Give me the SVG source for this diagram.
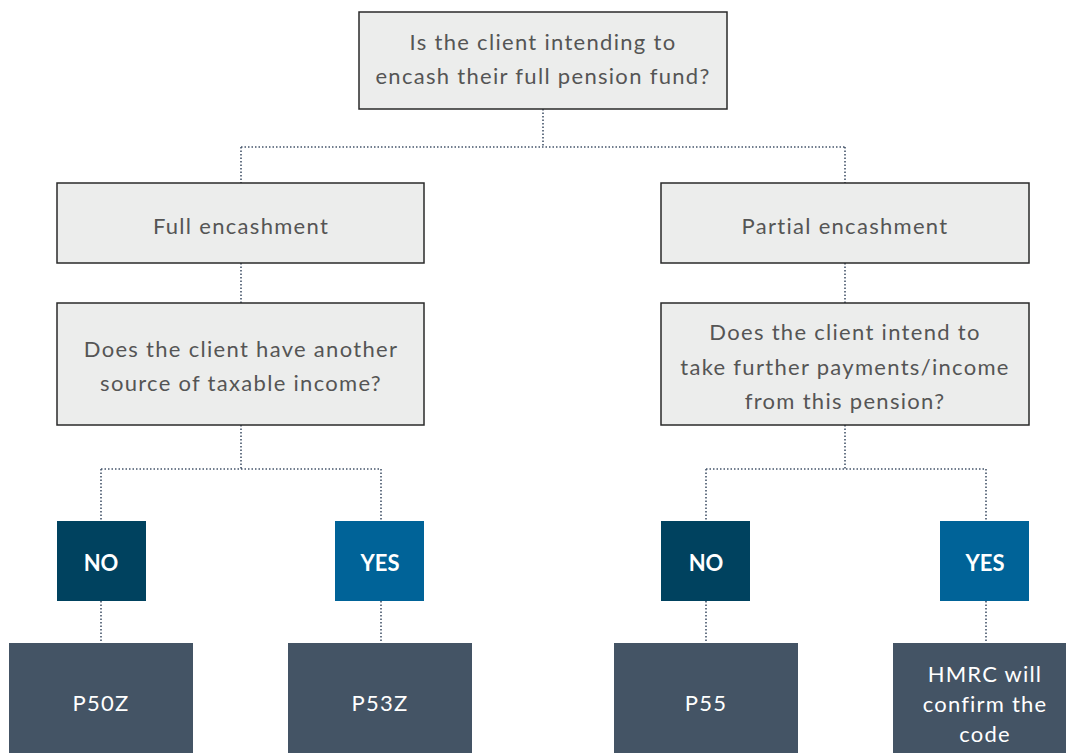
<svg xmlns="http://www.w3.org/2000/svg" width="1066" height="753" viewBox="0 0 1066 753">
<style>
.q{fill:#ECEDEC;stroke:#2a2a2a;stroke-width:1.5}
.qt{font-family:Lato,"Liberation Sans",sans-serif;font-size:22px;letter-spacing:1.3px;fill:#555555;text-anchor:middle;dominant-baseline:central}
.no{fill:#00425F}
.yes{fill:#006398}
.yn{font-family:Lato,"Liberation Sans",sans-serif;font-size:22px;font-weight:bold;fill:#ffffff;text-anchor:middle;dominant-baseline:central}
.r{fill:#445465}
.rt{font-family:Lato,"Liberation Sans",sans-serif;font-size:22px;letter-spacing:1.2px;fill:#ffffff;text-anchor:middle;dominant-baseline:central}
.c{fill:none;stroke:#44546A;stroke-width:1.6;stroke-dasharray:1.5 2}
</style>
<rect width="1066" height="753" fill="#ffffff"/>
<g id="connectors">
<path class="c" d="M543 109V147M241 147H845M241 147V183M845 147V183"/>
<path class="c" d="M241 263V303M845 263V303"/>
<path class="c" d="M241 425V469M101 469H381M101 469V521M381 469V521"/>
<path class="c" d="M845 425V469M706 469H986M706 469V521M986 469V521"/>
<path class="c" d="M101 601V643M381 601V643M706 601V643M986 601V643"/>
</g>
<g id="q-top"><rect class="q" x="359" y="12" width="368" height="97"/>
<text class="qt" x="543" y="41">Is the client intending to</text>
<text class="qt" x="543" y="75">encash their full pension fund?</text></g>
<g id="full"><rect class="q" x="57" y="183" width="367" height="80"/>
<text class="qt" x="241" y="225">Full encashment</text></g>
<g id="partial"><rect class="q" x="661" y="183" width="368" height="80"/>
<text class="qt" x="845" y="225">Partial encashment</text></g>
<g id="q-left"><rect class="q" x="57" y="303" width="367" height="122"/>
<text class="qt" x="241" y="348">Does the client have another</text>
<text class="qt" x="241" y="382">source of taxable income?</text></g>
<g id="q-right"><rect class="q" x="661" y="303" width="368" height="122"/>
<text class="qt" x="845" y="331">Does the client intend to</text>
<text class="qt" x="845" y="366">take further payments/income</text>
<text class="qt" x="845" y="400">from this pension?</text></g>
<g id="no-left"><rect class="no" x="57" y="521" width="89" height="80"/><text class="yn" x="101" y="562">NO</text></g>
<g id="yes-left"><rect class="yes" x="335" y="521" width="89" height="80"/><text class="yn" x="380" y="562">YES</text></g>
<g id="no-right"><rect class="no" x="661" y="521" width="89" height="80"/><text class="yn" x="706" y="562">NO</text></g>
<g id="yes-right"><rect class="yes" x="940" y="521" width="89" height="80"/><text class="yn" x="985" y="562">YES</text></g>
<g id="p50z"><rect class="r" x="9" y="643" width="184" height="115"/><text class="rt" x="101" y="702">P50Z</text></g>
<g id="p53z"><rect class="r" x="288" y="643" width="184" height="115"/><text class="rt" x="380" y="702">P53Z</text></g>
<g id="p55"><rect class="r" x="614" y="643" width="184" height="115"/><text class="rt" x="706" y="702">P55</text></g>
<g id="hmrc"><rect class="r" x="893" y="643" width="184" height="115"/>
<text class="rt" x="985" y="673">HMRC will</text>
<text class="rt" x="985" y="703">confirm the</text>
<text class="rt" x="985" y="733">code</text></g>
</svg>
